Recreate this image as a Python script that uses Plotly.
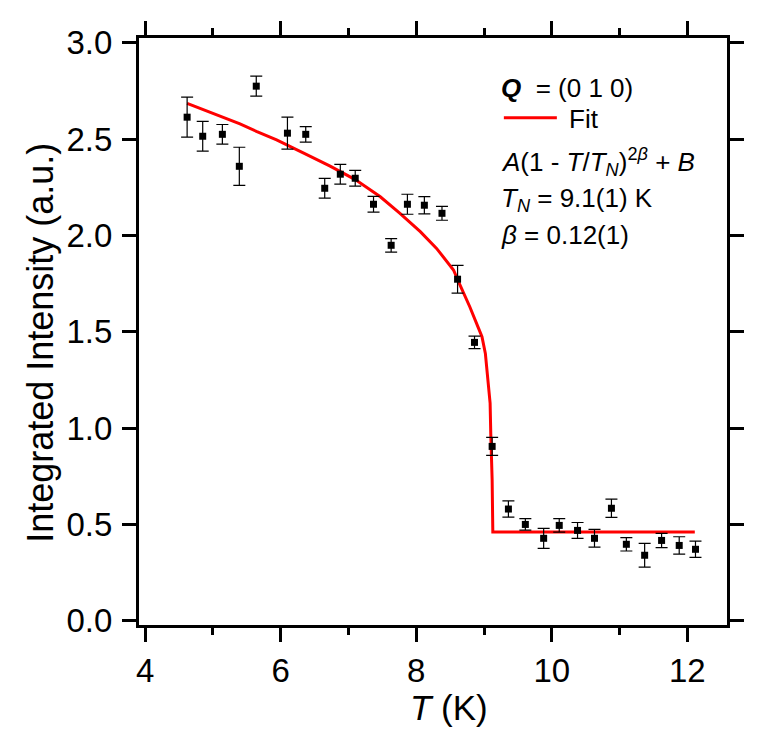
"""Integrated intensity of the (0 1 0) peak vs temperature, with order-parameter fit."""

import plotly.graph_objects as go

FONT = 'Liberation Sans, Arial, sans-serif'
RED = '#ff0000'
BLACK = '#000000'

temps = [4.62, 4.85, 5.14, 5.39, 5.64, 6.10, 6.37, 6.65, 6.88, 7.10,
         7.37, 7.63, 7.87, 8.12, 8.38, 8.61, 8.86, 9.12, 9.36, 9.61,
         9.88, 10.11, 10.38, 10.63, 10.88, 11.10, 11.37, 11.62, 11.88, 12.12]
intensity = [2.614, 2.515, 2.525, 2.359, 2.775, 2.531, 2.525, 2.245, 2.318, 2.297,
             2.162, 1.949, 2.162, 2.157, 2.115, 1.773, 1.445, 0.905, 0.580, 0.500,
             0.428, 0.495, 0.469, 0.428, 0.584, 0.397, 0.340, 0.417, 0.391, 0.371]
errors = [0.104, 0.077, 0.051, 0.099, 0.052, 0.083, 0.040, 0.051, 0.051, 0.041,
          0.041, 0.035, 0.052, 0.045, 0.036, 0.072, 0.032, 0.047, 0.042, 0.030,
          0.052, 0.035, 0.041, 0.046, 0.047, 0.035, 0.062, 0.037, 0.045, 0.042]

# fit curve, sampled off the figure
fit_temps = [4.62, 5.01, 5.40, 5.65, 5.94, 6.34, 6.73, 7.10, 7.47, 7.76,
             8.06, 8.30, 8.55, 8.65, 8.79, 8.92, 8.97, 9.02, 9.06, 9.09,
             9.10, 9.12, 9.13, 12.11]
fit_intensity = [2.686, 2.634, 2.579, 2.539, 2.496, 2.427, 2.360, 2.290, 2.201, 2.115,
                 2.020, 1.933, 1.821, 1.740, 1.630, 1.518, 1.475, 1.388, 1.250, 1.130,
                 0.970, 0.731, 0.461, 0.461]

x_ticks = [4, 6, 8, 10, 12]
y_ticks = [0.0, 0.5, 1.0, 1.5, 2.0, 2.5, 3.0]

fig = go.Figure()
fig.add_trace(go.Scatter(
    x=fit_temps, y=fit_intensity, mode='lines', name='\u00a0Fit',
    line=dict(color=RED, width=3),
))
fig.add_trace(go.Scatter(
    x=temps, y=intensity, mode='markers', showlegend=False,
    marker=dict(symbol='square', size=7, color=BLACK),
    error_y=dict(type='data', array=errors, color=BLACK, thickness=1.2, width=6),
))

axis_style = dict(
    showline=True, linecolor=BLACK, linewidth=3, mirror='ticks',
    ticks='outside', ticklen=14, tickwidth=3, tickcolor=BLACK,
    showgrid=False, zeroline=False,
    tickfont=dict(family=FONT, size=33, color=BLACK),
)
fig.update_xaxes(
    range=[3.91, 12.585], tickvals=x_ticks,
    minor=dict(dtick=1, ticklen=7, tickwidth=3, tickcolor=BLACK, ticks='outside', showgrid=False),
    **axis_style,
)
fig.update_yaxes(
    range=[-0.022, 3.025], tickvals=y_ticks, tickformat='.1f', ticklabelstandoff=3,
    **axis_style,
)

# axis titles placed as annotations (they sit a bit off-centre in the original)
fig.add_annotation(
    text='<i>T</i> (K)', xref='paper', yref='paper', x=0.527, y=-0.141,
    xanchor='center', yanchor='middle', showarrow=False,
    font=dict(family=FONT, size=35, color=BLACK),
)
fig.add_annotation(
    text='Integrated Intensity (a.u.)', xref='paper', yref='paper', x=-0.168, y=0.481,
    xanchor='center', yanchor='middle', showarrow=False, textangle=-90,
    font=dict(family=FONT, size=36, color=BLACK),
)

text_font = dict(family=FONT, size=26, color=BLACK)
notes = [
    ('<b><i>Q</i></b>  = (0 1 0)', 0.915),
    ('<i>A</i>(1 - <i>T</i>/<i>T</i><sub><i>N</i></sub>)<sup>2<i>β</i></sup> + <i>B</i>', 0.789),
    ('<i>T</i><sub><i>N</i></sub> = 9.1(1) K', 0.725),
    ('<i>β</i> = 0.12(1)', 0.664),
]
for text, ypos in notes:
    fig.add_annotation(
        text=text, xref='paper', yref='paper', x=0.612, y=ypos,
        xanchor='left', yanchor='middle', showarrow=False, font=text_font,
    )

# page body adds an 8px offset, so margins are shifted to keep the plot area in place
fig.update_layout(
    width=777, height=734,
    margin=dict(l=131, r=58, t=30, b=117),
    paper_bgcolor='white', plot_bgcolor='white',
    font=dict(family=FONT, color=BLACK),
    legend=dict(
        x=0.612, y=0.864, xanchor='left', yanchor='middle',
        bgcolor='rgba(0,0,0,0)', font=text_font, itemwidth=53,
    ),
)

fig.write_html('out.html')
